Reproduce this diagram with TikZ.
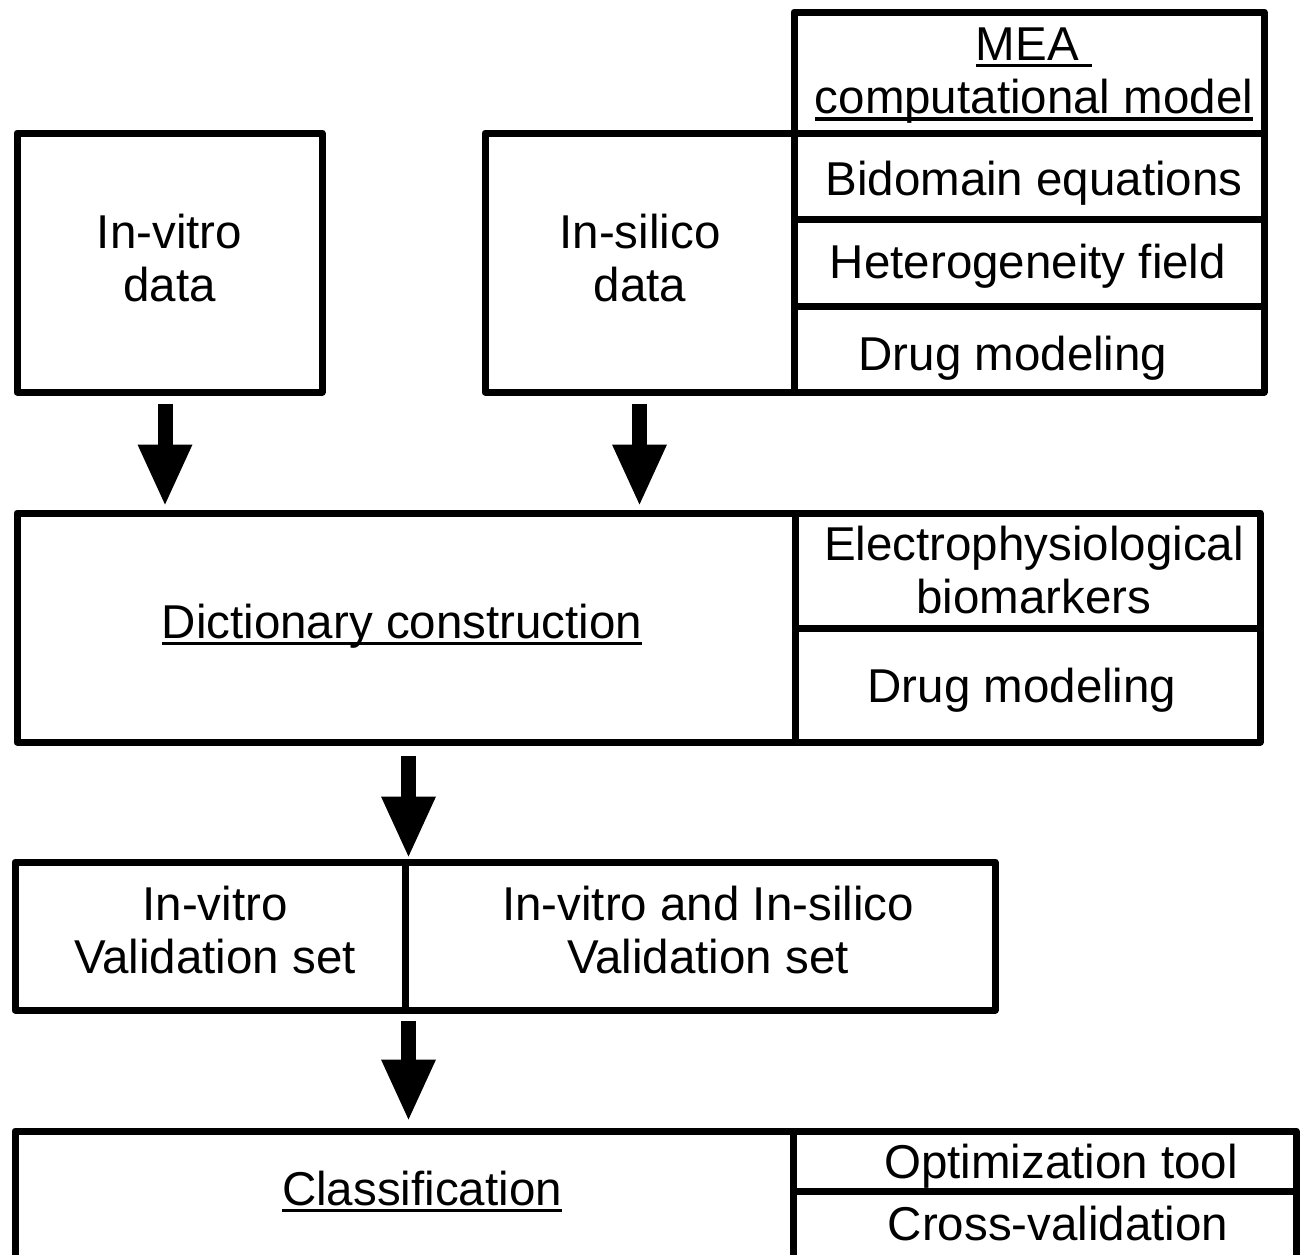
\documentclass[tikz,border=0pt]{standalone}
\usepackage{fontspec}
\setmainfont{Liberation Sans}
\usetikzlibrary{arrows.meta}

% underlined text with a fixed rule below the baseline
\newsavebox\ulbox
\newcommand\undl[1]{\sbox\ulbox{#1}\rlap{\rule[-7pt]{\wd\ulbox}{3.5pt}}\usebox\ulbox}
% two centred lines whose baseline is the first line's baseline
\newcommand\twolines[2]{\begin{tabular}[t]{@{}c@{}}#1\\#2\end{tabular}}

\begin{document}
\begin{tikzpicture}[x=1pt,y=-1pt,
  cell/.style={draw, line width=7pt, line join=round, rectangle, inner sep=0pt},
  lbl/.style={anchor=base, inner sep=0pt, font=\fontsize{47.5}{53.5}\selectfont},
  bigarrow/.style={line width=15pt, line cap=butt,
    -{Triangle[length=60pt,width=55pt,line width=0pt]}}]
\useasboundingbox (0,0) rectangle (1306,1254);
\clip (0,0) rectangle (1306,1254);

% input data boxes
\node[cell, minimum width=305pt, minimum height=259pt] (ivd) at (169.5,262.5) {};
\node[cell, minimum width=309pt, minimum height=259pt] (isd) at (639.5,262.5) {};
% computational model stack
\node[cell, minimum width=470pt, minimum height=121pt] (mea) at (1029,72.5) {};
\node[cell, minimum width=470pt, minimum height=86pt] (bid) at (1029,176) {};
\node[cell, minimum width=470pt, minimum height=87pt] (het) at (1029,262.5) {};
\node[cell, minimum width=470pt, minimum height=86pt] (drg) at (1029,349) {};

% dictionary
\node[cell, minimum width=778pt, minimum height=229pt] (dict) at (406,627.5) {};
\node[cell, minimum width=465pt, minimum height=115pt] (epb) at (1027.5,570.5) {};
\node[cell, minimum width=465pt, minimum height=114pt] (dmd) at (1027.5,685) {};

% validation sets
\node[cell, minimum width=390pt, minimum height=148pt] (vala) at (210,936) {};
\node[cell, minimum width=590pt, minimum height=148pt] (valb) at (700,936) {};

% classification
\node[cell, minimum width=778pt, minimum height=144pt] (cls) at (404,1203) {};
\node[cell, minimum width=503pt, minimum height=60pt] (opt) at (1044.5,1161) {};
\node[cell, minimum width=503pt, minimum height=84pt] (cvl) at (1044.5,1233) {};

% labels
\node[lbl] (ivd-t) at (169.5,248) {\twolines{In-vitro}{data}};
\node[lbl] (isd-t) at (640,248) {\twolines{In-silico}{data}};
\node[lbl] (mea-t) at (1034,60) {\twolines{\undl{MEA\ }}{\undl{computational model}}};
\node[lbl] (bid-t) at (1034,195) {Bidomain equations};
\node[lbl] (het-t) at (1028,278) {Heterogeneity field};
\node[lbl] (drg-t) at (1013,370) {Drug modeling};
\node[lbl] (dict-t) at (402,638) {\undl{Dictionary construction}};
\node[lbl] (epb-t) at (1034,560) {\twolines{Electrophysiological}{biomarkers}};
\node[lbl] (dmd-t) at (1022,702) {Drug modeling};
\node[lbl] (vala-t) at (215,920) {\twolines{In-vitro}{Validation set}};
\node[lbl] (valb-t) at (708,920) {\twolines{In-vitro and In-silico}{Validation set}};
\node[lbl] (cls-t) at (422,1205) {\undl{Classification}};
\node[lbl] (opt-t) at (1061,1178) {Optimization tool};
\node[lbl] (cvl-t) at (1058,1240) {Cross-validation};

% flow arrows
\draw[bigarrow, shorten <=8pt, shorten >=5pt]
  ([xshift=-4.5pt]ivd.south) -- ([xshift=-4.5pt]ivd.south |- dict.north);
\draw[bigarrow, shorten <=8pt, shorten >=5pt]
  (isd.south) -- (isd.south |- dict.north);
\draw[bigarrow, shorten <=10pt, shorten >=2pt]
  (vala.north east |- dict.south) -- (vala.north east);
\draw[bigarrow, shorten <=7pt, shorten >=8pt]
  (vala.south east) -- (vala.south east |- cls.north);
\end{tikzpicture}
\end{document}
